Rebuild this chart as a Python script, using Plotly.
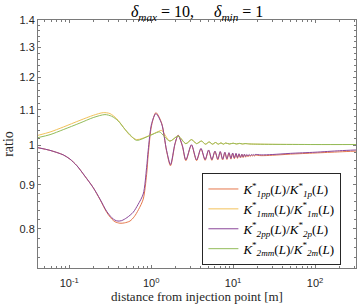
import plotly.graph_objects as go

# ---- data ----
L_purple = [0.0415, 0.058, 0.0845, 0.102, 0.124, 0.155, 0.196, 0.237, 0.286, 0.33, 0.361, 0.393, 0.436, 0.505,
            0.603, 0.688, 0.799, 0.879, 0.919, 1.011, 1.141, 1.34, 1.54, 1.72, 1.95, 2.13, 2.4, 2.65, 3.1,
            3.58, 4.05, 4.55, 5.02, 5.5, 6.0, 6.5, 6.96, 7.45, 7.93, 8.4, 8.9, 9.4, 9.87, 10.35, 10.84,
            11.3, 11.8, 12.3, 12.8, 13.25, 13.75, 14.2, 14.7, 15.2, 15.7, 16.2, 16.7, 17.1, 17.6, 18.1,
            18.6, 22.0, 30.0, 50.0, 100.0, 200.0, 316.0]
V_purple = [0.994, 0.987, 0.975, 0.964, 0.947, 0.921, 0.893, 0.866, 0.838, 0.824, 0.8185, 0.8165, 0.8175, 0.824,
            0.836, 0.853, 0.878, 0.943, 0.987, 1.060, 1.089, 1.060, 0.987, 0.950, 1.005, 1.027, 1.000, 0.962,
            1.002, 0.962, 0.992, 0.963, 0.988, 0.963, 0.985, 0.964, 0.984, 0.964, 0.982, 0.965, 0.981,
            0.966, 0.980, 0.967, 0.979, 0.968, 0.978, 0.969, 0.977, 0.970, 0.977, 0.971, 0.976, 0.972,
            0.976, 0.973, 0.976, 0.974, 0.976, 0.974, 0.976, 0.975, 0.976, 0.979, 0.982, 0.986, 0.988]

L_orange = [0.0415, 0.058, 0.0845, 0.102, 0.124, 0.155, 0.196, 0.237, 0.286, 0.33, 0.361, 0.415, 0.47, 0.55,
            0.62, 0.70, 0.799, 0.879, 0.919, 1.011, 1.141, 1.34, 1.54, 1.72, 1.95, 2.13, 2.4, 2.65, 3.1,
            3.58, 4.05, 4.55, 5.02, 5.5, 6.0, 6.5, 6.96, 7.45, 7.93, 8.4, 8.9, 9.4, 9.87, 10.35, 10.84,
            11.3, 11.8, 12.3, 12.8, 13.25, 13.75, 14.2, 14.7, 15.2, 15.7, 16.2, 16.7, 17.1, 17.6, 18.1,
            18.6, 22.0, 30.0, 50.0, 100.0, 200.0, 316.0]
V_orange = [0.994, 0.987, 0.975, 0.964, 0.947, 0.921, 0.893, 0.865, 0.836, 0.821, 0.815, 0.8118, 0.8125, 0.8165,
            0.826, 0.842, 0.866, 0.925, 0.975, 1.055, 1.092, 1.062, 0.985, 0.947, 1.003, 1.028, 0.998, 0.960,
            1.001, 0.960, 0.991, 0.961, 0.987, 0.961, 0.984, 0.962, 0.983, 0.962, 0.981, 0.963, 0.980,
            0.964, 0.979, 0.965, 0.978, 0.966, 0.977, 0.967, 0.976, 0.968, 0.976, 0.969, 0.975, 0.970,
            0.975, 0.971, 0.974, 0.972, 0.974, 0.972, 0.974, 0.973, 0.974, 0.977, 0.980, 0.983, 0.985]

L_yellow = [0.0415, 0.0582, 0.0845, 0.135, 0.196, 0.260, 0.3135, 0.3785, 0.4556, 0.5496, 0.6634, 0.964,
            1.217, 1.34, 1.69, 2.13, 2.65, 3.11, 3.58, 4.10, 4.60, 5.10, 5.6, 6.1, 6.6, 7.1, 7.6, 8.1,
            9.0, 10.0, 11.0, 12.0, 13.0, 14.0, 16.0, 20.0, 30.0, 100.0, 316.0]
V_yellow = [1.0275, 1.0367, 1.0507, 1.0697, 1.0841, 1.0920, 1.0892, 1.0746, 1.0507, 1.0275, 1.0158, 1.0275,
            1.0380, 1.0410, 1.0119, 1.0254, 1.0049, 1.0158, 1.0049, 1.0119, 1.0035, 1.0094, 1.0035, 1.0080,
            1.0035, 1.0070, 1.0035, 1.0065, 1.0040, 1.0060, 1.0040, 1.0055, 1.0040, 1.0050, 1.0040,
            1.0035, 1.0030, 1.0025, 1.0025]

L_green = [0.0415, 0.0582, 0.0845, 0.135, 0.196, 0.2725, 0.3289, 0.396, 0.4778, 0.5768, 0.6634, 0.964,
           1.217, 1.2767, 1.69, 2.13, 2.65, 3.11, 3.58, 4.10, 4.60, 5.10, 5.6, 6.1, 6.6, 7.1, 7.6, 8.1,
           9.0, 10.0, 11.0, 12.0, 13.0, 14.0, 16.0, 20.0, 30.0, 100.0, 316.0]
V_green = [1.0213, 1.0294, 1.0434, 1.0620, 1.0776, 1.0863, 1.0815, 1.0678, 1.0443, 1.0247, 1.0138, 1.0270,
           1.0367, 1.0367, 1.0119, 1.0254, 1.0049, 1.0158, 1.0049, 1.0119, 1.0035, 1.0094, 1.0035, 1.0080,
           1.0035, 1.0070, 1.0035, 1.0065, 1.0040, 1.0060, 1.0040, 1.0055, 1.0040, 1.0050, 1.0040,
           1.0035, 1.0030, 1.0025, 1.0025]

series_names = ["<i>K</i><sup>*</sup><sub><i>1pp</i></sub>(<i>L</i>)/<i>K</i><sup>*</sup><sub><i>1p</i></sub>(<i>L</i>)",
                "<i>K</i><sup>*</sup><sub><i>1mm</i></sub>(<i>L</i>)/<i>K</i><sup>*</sup><sub><i>1m</i></sub>(<i>L</i>)",
                "<i>K</i><sup>*</sup><sub><i>2pp</i></sub>(<i>L</i>)/<i>K</i><sup>*</sup><sub><i>2p</i></sub>(<i>L</i>)",
                "<i>K</i><sup>*</sup><sub><i>2mm</i></sub>(<i>L</i>)/<i>K</i><sup>*</sup><sub><i>2m</i></sub>(<i>L</i>)"]
series_colors = ["#E5784C", "#F2C15A", "#8A4699", "#93BC5A"]

y_tickvals = [0.8, 0.9, 1.0, 1.1, 1.2, 1.3, 1.4]
y_ticktext = ["0.8", "0.9", "1", "1.1", "1.2", "1.3", "1.4"]
y_minor = [0.72, 0.74, 0.76, 0.78, 0.82, 0.84, 0.86, 0.88, 0.92, 0.94, 0.96, 0.98, 1.02, 1.04, 1.06, 1.08,
           1.12, 1.14, 1.16, 1.18, 1.22, 1.24, 1.26, 1.28, 1.32, 1.34, 1.36, 1.38]
x_tickvals = [0.1, 1, 10, 100]
x_ticktext = ["10<sup>-1</sup>", "10<sup>0</sup>", "10<sup>1</sup>", "10<sup>2</sup>"]
x_minor = [0.05, 0.06, 0.07, 0.08, 0.09, 0.2, 0.3, 0.4, 0.5, 0.6, 0.7, 0.8, 0.9, 2, 3, 4, 5, 6, 7, 8, 9,
           20, 30, 40, 50, 60, 70, 80, 90, 200, 300]

fig = go.Figure()
data = [(L_orange, V_orange), (L_yellow, V_yellow), (L_purple, V_purple), (L_green, V_green)]
for (xs, ys), name, col in zip(data, series_names, series_colors):
    fig.add_trace(go.Scatter(x=xs, y=ys, mode="lines", name=name,
                             line=dict(color=col, width=1, shape="spline", smoothing=0.8)))

axis_col = "#7a7a7a"
tick_font = dict(family="Liberation Sans, Arial, sans-serif", size=11, color="#262626")
serif = "Liberation Serif, DejaVu Serif, serif"

fig.update_layout(
    width=360, height=307,
    margin=dict(l=38, r=4, t=20, b=39, autoexpand=False),
    paper_bgcolor="white", plot_bgcolor="white",
    title=dict(text="<i>δ</i><sub><i>max</i></sub> = 10,\u00a0\u00a0\u00a0\u00a0\u00a0<i>δ</i><sub><i>min</i></sub> = 1",
               x=0.5475, xanchor="center", y=0.962, yanchor="middle",
               font=dict(family=serif, size=16, color="#000")),
    showlegend=True,
    legend=dict(x=0.517, xanchor="left", y=0.012, yanchor="bottom",
                bgcolor="white", bordercolor="#262626", borderwidth=1,
                font=dict(family=serif, size=13, color="#000"),
                tracegroupgap=0, itemwidth=30),
)
fig.update_xaxes(type="log", range=[-1.382, 2.5], automargin=False,
                 tickmode="array", tickvals=x_tickvals, ticktext=x_ticktext,
                 ticks="inside", ticklen=3, tickcolor=axis_col, tickfont=tick_font,
                 ticklabelstandoff=5,
                 showline=True, linecolor=axis_col, linewidth=1, mirror="ticks",
                 showgrid=False, zeroline=False,
                 minor=dict(tickmode="array", tickvals=x_minor, ticks="inside", ticklen=2,
                            tickcolor=axis_col, showgrid=False),
                 title=dict(text="distance from injection point [m]", standoff=3,
                            font=dict(family=serif, size=13, color="#262626")))
fig.update_yaxes(type="log", range=[-0.1427, 0.1461], automargin=False,
                 tickmode="array", tickvals=y_tickvals, ticktext=y_ticktext,
                 ticks="inside", ticklen=3, tickcolor=axis_col, tickfont=tick_font,
                 showline=True, linecolor=axis_col, linewidth=1, mirror="ticks",
                 showgrid=False, zeroline=False,
                 minor=dict(tickmode="array", tickvals=y_minor, ticks="inside", ticklen=2,
                            tickcolor=axis_col, showgrid=False),
                 title=dict(text="ratio", standoff=2,
                            font=dict(family=serif, size=14, color="#262626")))

fig.write_html("out.html", config={"displayModeBar": False},
               post_script="document.body.style.margin='0';")
